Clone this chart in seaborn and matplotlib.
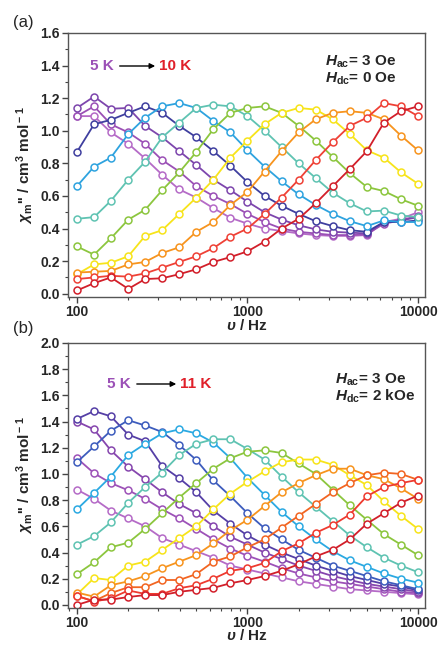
import matplotlib
matplotlib.use('Agg')
import matplotlib.pyplot as plt
import seaborn as sns
import pandas as pd
from matplotlib.ticker import LogLocator, MultipleLocator, FixedLocator, NullFormatter, FixedFormatter

# ac frequencies (Hz), 10 points per decade
freq = [100, 126, 158, 200, 251, 316, 398, 501, 631, 794, 1000,
        1259, 1585, 1995, 2512, 3162, 3981, 5012, 6310, 7943, 10000]

# ---- panel (a): Hdc = 0 Oe, 5 K -> 10 K ----
temps_a = ['5.0 K', '5.5 K', '6.0 K', '6.5 K', '7.0 K', '7.5 K', '8.0 K', '8.5 K', '9.0 K', '9.5 K', '10.0 K']
a_5_0 = [1.09, 1.09, 0.99, 0.92, 0.83, 0.73, 0.64, 0.59, 0.525, 0.466, 0.43, 0.40, 0.385, 0.37, 0.36, 0.355, 0.355, 0.36, 0.44, 0.46, 0.50]
a_5_5 = [1.09, 1.15, 1.04, 0.99, 0.92, 0.82, 0.75, 0.66, 0.60, 0.55, 0.49, 0.44, 0.40, 0.38, 0.37, 0.36, 0.36, 0.365, 0.43, 0.45, 0.48]
a_6_0 = [1.14, 1.21, 1.135, 1.14, 1.03, 0.96, 0.875, 0.79, 0.70, 0.635, 0.565, 0.50, 0.455, 0.42, 0.395, 0.38, 0.375, 0.37, 0.44, 0.45, 0.47]
a_6_5 = [0.87, 1.04, 1.067, 1.11, 1.15, 1.11, 1.03, 0.96, 0.875, 0.785, 0.685, 0.60, 0.54, 0.49, 0.445, 0.415, 0.39, 0.38, 0.44, 0.44, 0.45]
a_7_0 = [0.66, 0.78, 0.835, 0.98, 1.08, 1.15, 1.17, 1.14, 1.06, 0.99, 0.88, 0.78, 0.69, 0.61, 0.545, 0.49, 0.445, 0.415, 0.45, 0.44, 0.44]
a_7_5 = [0.46, 0.47, 0.57, 0.70, 0.81, 0.96, 1.05, 1.14, 1.16, 1.15, 1.09, 1.00, 0.90, 0.80, 0.71, 0.62, 0.555, 0.505, 0.51, 0.48, 0.47]
a_8_0 = [0.29, 0.24, 0.34, 0.455, 0.515, 0.635, 0.745, 0.87, 1.01, 1.11, 1.14, 1.15, 1.11, 1.03, 0.94, 0.84, 0.74, 0.655, 0.63, 0.58, 0.54]
a_8_5 = [0.12, 0.18, 0.19, 0.23, 0.355, 0.39, 0.49, 0.59, 0.70, 0.835, 0.94, 1.04, 1.11, 1.14, 1.13, 1.07, 0.98, 0.88, 0.835, 0.745, 0.675]
a_9_0 = [0.13, 0.135, 0.14, 0.18, 0.195, 0.25, 0.285, 0.38, 0.44, 0.545, 0.625, 0.75, 0.875, 0.99, 1.07, 1.11, 1.12, 1.11, 1.07, 0.97, 0.88]
a_9_5 = [0.09, 0.10, 0.11, 0.105, 0.125, 0.16, 0.195, 0.23, 0.28, 0.35, 0.40, 0.49, 0.59, 0.70, 0.82, 0.93, 1.03, 1.08, 1.17, 1.15, 1.09]
a_10_0 = [0.02, 0.065, 0.10, 0.03, 0.09, 0.095, 0.12, 0.15, 0.195, 0.225, 0.26, 0.32, 0.40, 0.46, 0.555, 0.66, 0.765, 0.875, 1.05, 1.12, 1.15]
series_a = [a_5_0, a_5_5, a_6_0, a_6_5, a_7_0, a_7_5, a_8_0, a_8_5, a_9_0, a_9_5, a_10_0]
colors_a = ['#b56bc7', '#9b50b6', '#7d46ad', '#3f3f9f', '#2ea3df', '#5fc3b2', '#8cc63e',
            '#f7e41a', '#f7941e', '#ef4136', '#d21f2a']

# ---- panel (b): Hdc = 2 kOe, 5 K -> 11 K ----
temps_b = ['5.0 K', '5.5 K', '6.0 K', '6.5 K', '7.0 K', '7.5 K', '8.0 K', '8.5 K', '9.0 K',
           '9.5 K', '10.0 K', '10.5 K', '11.0 K']
b_5_0 = [0.88, 0.81, 0.72, 0.66, 0.60, 0.51, 0.46, 0.41, 0.36, 0.30, 0.27, 0.24, 0.21, 0.18, 0.16, 0.14, 0.12, 0.11, 0.10, 0.09, 0.08]
b_5_5 = [1.12, 1.005, 0.93, 0.875, 0.81, 0.73, 0.66, 0.58, 0.50, 0.43, 0.375, 0.33, 0.28, 0.24, 0.21, 0.18, 0.16, 0.14, 0.12, 0.10, 0.09]
b_6_0 = [1.40, 1.34, 1.18, 1.055, 0.96, 0.86, 0.77, 0.70, 0.60, 0.52, 0.46, 0.40, 0.35, 0.30, 0.26, 0.22, 0.19, 0.16, 0.14, 0.12, 0.10]
b_6_5 = [1.42, 1.48, 1.44, 1.30, 1.25, 1.06, 0.967, 0.86, 0.72, 0.62, 0.53, 0.46, 0.40, 0.35, 0.30, 0.26, 0.22, 0.19, 0.16, 0.14, 0.11]
b_7_0 = [1.09, 1.21, 1.33, 1.41, 1.37, 1.32, 1.22, 1.107, 0.95, 0.83, 0.70, 0.585, 0.50, 0.42, 0.36, 0.30, 0.26, 0.22, 0.18, 0.15, 0.12]
b_7_5 = [0.73, 0.855, 0.98, 1.145, 1.23, 1.31, 1.34, 1.31, 1.24, 1.12, 0.97, 0.84, 0.71, 0.60, 0.50, 0.41, 0.34, 0.29, 0.24, 0.20, 0.17]
b_8_0 = [0.46, 0.525, 0.63, 0.78, 0.90, 1.01, 1.145, 1.23, 1.265, 1.265, 1.19, 1.11, 0.98, 0.86, 0.75, 0.64, 0.53, 0.44, 0.36, 0.30, 0.25]
b_8_5 = [0.235, 0.325, 0.44, 0.475, 0.58, 0.70, 0.82, 0.93, 1.04, 1.12, 1.17, 1.18, 1.16, 1.08, 1.00, 0.88, 0.76, 0.65, 0.54, 0.46, 0.38]
b_9_0 = [0.08, 0.205, 0.19, 0.30, 0.33, 0.42, 0.51, 0.60, 0.73, 0.85, 0.94, 1.02, 1.09, 1.11, 1.11, 1.07, 0.99, 0.915, 0.79, 0.68, 0.58]
b_9_5 = [0.094, 0.063, 0.15, 0.18, 0.22, 0.28, 0.33, 0.38, 0.47, 0.57, 0.65, 0.755, 0.86, 0.93, 0.99, 1.04, 1.04, 0.99, 0.96, 0.89, 0.81]
b_10_0 = [0.065, 0.03, 0.09, 0.135, 0.135, 0.19, 0.19, 0.235, 0.33, 0.37, 0.44, 0.50, 0.59, 0.68, 0.77, 0.86, 0.93, 0.99, 1.01, 1.00, 0.955]
b_10_5 = [0.07, 0.025, 0.05, 0.11, 0.084, 0.084, 0.127, 0.15, 0.20, 0.26, 0.28, 0.32, 0.41, 0.47, 0.55, 0.61, 0.69, 0.83, 0.90, 0.93, 0.955]
b_11_0 = [0.0, 0.04, 0.04, 0.06, 0.075, 0.075, 0.10, 0.115, 0.13, 0.165, 0.19, 0.22, 0.26, 0.31, 0.37, 0.42, 0.50, 0.62, 0.70, 0.78, 0.835]
series_b = [b_5_0, b_5_5, b_6_0, b_6_5, b_7_0, b_7_5, b_8_0, b_8_5, b_9_0, b_9_5, b_10_0, b_10_5, b_11_0]
colors_b = ['#b56bc7', '#9d52b8', '#8646ae', '#553fa6', '#3d5cbd', '#2ba9e2', '#5fc3b2', '#8cc63e',
            '#f7e41a', '#f7941e', '#f26522', '#ee3a2f', '#d21f2a']


def to_long(temps, series):
    rows = []
    for t, vals in zip(temps, series):
        for f, v in zip(freq, vals):
            rows.append({'freq': f, 'chi': v, 'T': t})
    return pd.DataFrame(rows)


sns.set_style('ticks')
plt.rcParams['font.family'] = ['Liberation Sans', 'DejaVu Sans']
plt.rcParams['font.weight'] = 'bold'
plt.rcParams['axes.labelweight'] = 'bold'
plt.rcParams['mathtext.fontset'] = 'custom'
plt.rcParams['mathtext.rm'] = 'Liberation Sans:bold'
plt.rcParams['mathtext.it'] = 'Liberation Sans:italic:bold'
plt.rcParams['mathtext.bf'] = 'Liberation Sans:bold'

fig = plt.figure(figsize=(4.43, 6.45), dpi=100)
ax_a = fig.add_axes([68/443, 1 - 297/645, 357/443, 264/645])
ax_b = fig.add_axes([68/443, 1 - 607.5/645, 357/443, 264.5/645])


def draw_panel(ax, temps, series, colors, ymax, ystep):
    df = to_long(temps, series)
    sns.lineplot(data=df, x='freq', y='chi', hue='T', hue_order=temps, palette=colors,
                 marker='o', markersize=5, linewidth=1.3, legend=False, ax=ax)
    for line in ax.lines:
        line.set_markerfacecolor('white')
        line.set_markeredgecolor(line.get_color())
        line.set_markeredgewidth(1.1)
    ax.set_xscale('log')
    ax.set_xlim(88.6, 10990)
    ax.set_ylim(-0.02, ymax)
    ax.xaxis.set_major_locator(FixedLocator([100, 1000, 10000]))
    ax.xaxis.set_major_formatter(FixedFormatter(['100', '1000', '10000']))
    ax.xaxis.set_minor_locator(LogLocator(base=10, subs=range(2, 10), numticks=20))
    ax.xaxis.set_minor_formatter(NullFormatter())
    ax.yaxis.set_major_locator(MultipleLocator(ystep))
    ax.yaxis.set_minor_locator(MultipleLocator(ystep / 2))
    ax.yaxis.set_major_formatter(plt.FuncFormatter(lambda v, p: f'{v:.1f}'))
    ax.tick_params(axis='both', which='major', direction='out', length=4, width=1,
                   labelsize=10, color='#444444', pad=2)
    ax.tick_params(axis='both', which='minor', direction='out', length=2.2, width=0.8, color='#444444')
    for lab in ax.get_xticklabels() + ax.get_yticklabels():
        lab.set_fontweight('bold')
    for sp in ax.spines.values():
        sp.set_visible(True)
        sp.set_color('#555555')
        sp.set_linewidth(1.0)
    ax.set_xlabel(r'$\upsilon$ / Hz', fontsize=11, labelpad=-1)
    ax.set_ylabel(r"$\chi_{\rm m}$'' / cm$^{\rm 3}$ mol$^{\rm -1}$", fontsize=11, labelpad=3)


draw_panel(ax_a, temps_a, series_a, colors_a, 1.6, 0.2)
draw_panel(ax_b, temps_b, series_b, colors_b, 2.0, 0.2)

# panel (a) annotations
fig.text(23/443, 1 - 22/645, '(a)', fontsize=12, fontweight='normal', ha='center', va='center')
ax_a.text(0.062, 0.875, '5 K', transform=ax_a.transAxes, color='#9b50b6', fontsize=11,
          fontweight='bold', va='center', ha='left')
ax_a.annotate('', xy=(0.252, 0.875), xytext=(0.137, 0.875), xycoords='axes fraction',
              arrowprops=dict(arrowstyle='-|>', color='black', lw=1.0, mutation_scale=8))
ax_a.text(0.255, 0.875, '10 K', transform=ax_a.transAxes, color='#e0202a', fontsize=11,
          fontweight='bold', va='center', ha='left')
ax_a.text(0.72, 0.89, r'$H_{\rm ac}$= 3 Oe', transform=ax_a.transAxes, fontsize=11,
          va='center', ha='left')
ax_a.text(0.72, 0.825, r'$H_{\rm dc}$= 0 Oe', transform=ax_a.transAxes, fontsize=11,
          va='center', ha='left')

# panel (b) annotations
fig.text(23/443, 1 - 328/645, '(b)', fontsize=12, fontweight='normal', ha='center', va='center')
ax_b.text(0.11, 0.845, '5 K', transform=ax_b.transAxes, color='#9b50b6', fontsize=11,
          fontweight='bold', va='center', ha='left')
ax_b.annotate('', xy=(0.311, 0.845), xytext=(0.185, 0.845), xycoords='axes fraction',
              arrowprops=dict(arrowstyle='-|>', color='black', lw=1.0, mutation_scale=8))
ax_b.text(0.314, 0.845, '11 K', transform=ax_b.transAxes, color='#e0202a', fontsize=11,
          fontweight='bold', va='center', ha='left')
ax_b.text(0.748, 0.86, r'$H_{\rm ac}$= 3 Oe', transform=ax_b.transAxes, fontsize=11,
          va='center', ha='left')
ax_b.text(0.748, 0.80, r'$H_{\rm dc}$= 2 kOe', transform=ax_b.transAxes, fontsize=11,
          va='center', ha='left')

fig.savefig('out.png', dpi=100)
